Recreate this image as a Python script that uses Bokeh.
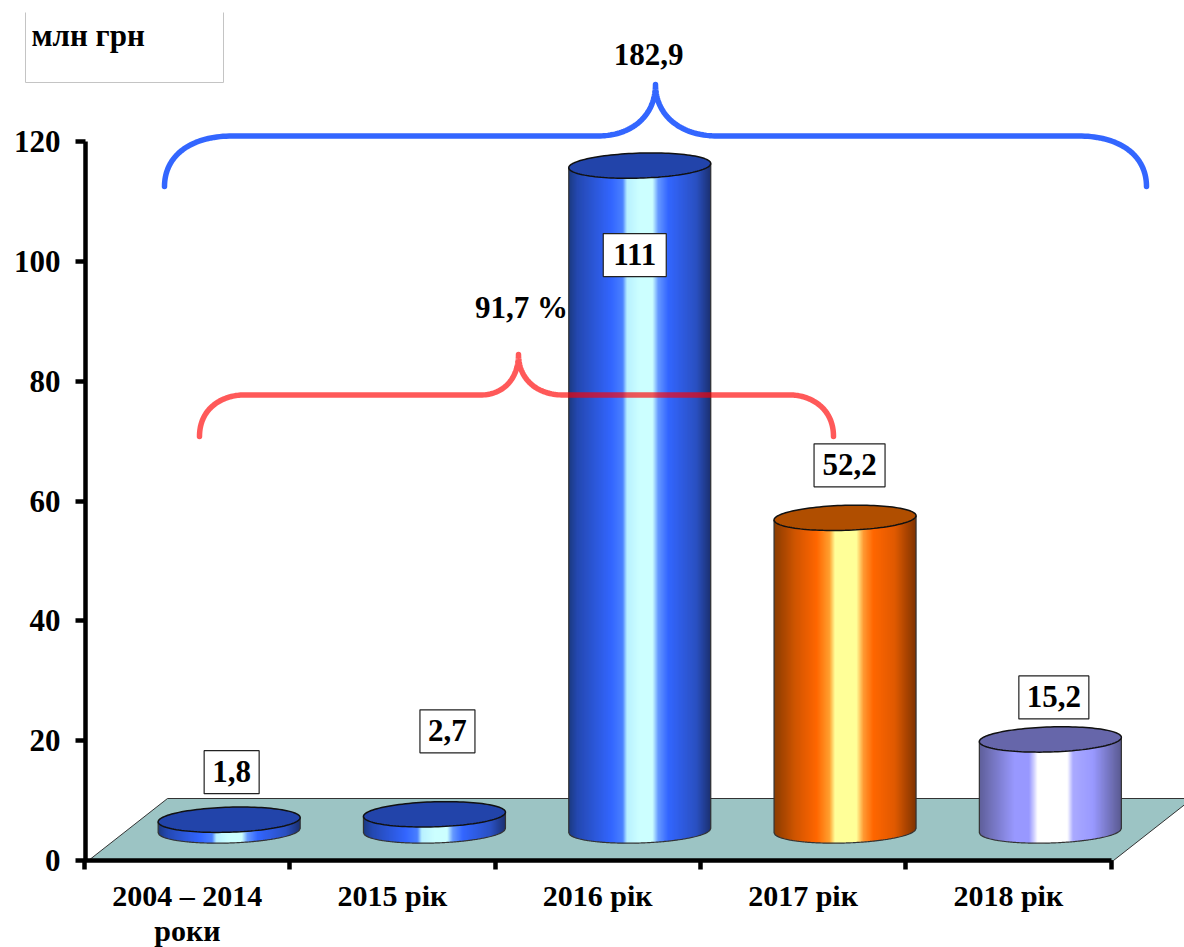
import numpy as np
from bokeh.embed import file_html
from bokeh.resources import INLINE
from bokeh.plotting import figure
from bokeh.models import LinearAxis, FixedTicker, ColumnDataSource
from bokeh.core.properties import value

# ---------- data ----------
categories = ["2004 – 2014", "2015 рік", "2016 рік", "2017 рік", "2018 рік"]
first_category_second_line = "роки"
values = [1.8, 2.7, 111, 52.2, 15.2]
value_labels = ["1,8", "2,7", "111", "52,2", "15,2"]
y_ticks = [0, 20, 40, 60, 80, 100, 120]
unit_label = "млн грн"
total_label = "182,9"
share_label = "91,7 %"

# ---------- styles ----------
FONT = value("Liberation Serif")
BLUE = {"stops": [0, .06, .3, .38, .41, .5, .59, .63, .7, .9, 1],
        "cols": ["#1c3a80", "#2448b0", "#3366ff", "#4a80ff", "#b8f0ff", "#ccffff", "#ccffff", "#6699ff", "#3366ff", "#2a50c0", "#1c3070"],
        "top": "#2244aa"}
ORANGE = {"stops": [0, .15, .3, .39, .43, .58, .63, .7, .85, 1],
          "cols": ["#8a3c00", "#d05500", "#ff6600", "#ffa030", "#ffff99", "#ffff99", "#ff9933", "#ff6600", "#e05a00", "#7f3300"],
          "top": "#b04e00"}
PERI = {"stops": [0, .25, .35, .385, .41, .62, .66, .8, 1],
        "cols": ["#5f5f99", "#9999ff", "#9999ff", "#d0d0ff", "#ffffff", "#ffffff", "#aaaaff", "#9999ff", "#5a5a90"],
        "top": "#6666aa"}
styles = [BLUE, BLUE, BLUE, ORANGE, PERI]

# ---------- layout (page pixel geometry) ----------
W, H = 1184, 947
PAGE = 0
X0, DX = 84.0, 205.3     # left tick and category width
Y0, DY = 860.0, 5.99     # y of value 0 and px per unit
CYL_SHIFT = 42.0
HALF_W, HALF_H, TILT = 71.0, 12.5, 0.03
BASE_Y = 830.0

def ux(px):
    return (np.asarray(px, dtype=float) - X0) / DX

def uy(py):
    return (Y0 - np.asarray(py, dtype=float)) / DY

p = figure(width=W, height=H, output_backend="svg", toolbar_location=None,
           x_axis_type=None, y_axis_type=None,
           x_range=(float(ux(PAGE)), float(ux(PAGE + W))),
           y_range=(float(uy(PAGE + H)), float(uy(PAGE))),
           min_border=0, outline_line_color=None,
           background_fill_color="white", border_fill_color="white")
p.grid.visible = False

# floor
fx = [88, 1113, 1192, 167]
fy = [860, 860, 798, 798]
p.patch(ux(fx), uy(fy), fill_color="#9cc4c4", line_color="#333333", line_width=1)

# cylinders
def lerp_colors(t, stops, cols):
    rgb = np.array([[int(c[i:i + 2], 16) for i in (1, 3, 5)] for c in cols], dtype=float)
    return ["#%02x%02x%02x" % tuple(int(round(np.interp(v, stops, rgb[:, k]))) for k in range(3)) for v in t]

N = 142
for i, (v, st) in enumerate(zip(values, styles)):
    cx = X0 + DX * (i + .5) + CYL_SHIFT
    top = BASE_Y - v * DY
    edges = np.linspace(-HALF_W, HALF_W, N + 1)
    curve = HALF_H * np.sqrt(np.clip(1 - (edges / HALF_W) ** 2, 0, 1))
    shear = -TILT * edges
    mids = (np.arange(N) + .5) / N
    cols = lerp_colors(mids, st["stops"], st["cols"])
    xs, ys = [], []
    for k in range(N):
        e = min(k + 2, N)   # each strip runs under the next one, so no seams show
        xx = [cx + edges[k], cx + edges[e], cx + edges[e], cx + edges[k]]
        yy = [top + shear[k] + curve[k], top + shear[e] + curve[e],
              BASE_Y + shear[e] + curve[e], BASE_Y + shear[k] + curve[k]]
        xs.append(ux(xx).tolist())
        ys.append(uy(yy).tolist())
    p.patches(xs, ys, fill_color=cols, line_color=None)
    # body outline
    ox = np.r_[cx - HALF_W, cx + edges, cx + HALF_W]
    oy = np.r_[top + shear[0], BASE_Y + shear + curve, top + shear[-1]]
    p.line(ux(ox), uy(oy), line_color="#333333", line_width=1.2)
    # top ellipse
    th = np.linspace(0, 2 * np.pi, 121)
    ex = cx + HALF_W * np.cos(th)
    ey = top - TILT * HALF_W * np.cos(th) + HALF_H * np.sin(th)
    p.patch(ux(ex), uy(ey), fill_color=st["top"], line_color="#111111", line_width=1.5)

# braces
def bez(p0, c1, c2, p1, n=40):
    t = np.linspace(0, 1, n)[:, None]
    a = [np.array(q, dtype=float) for q in (p0, c1, c2, p1)]
    return (1 - t) ** 3 * a[0] + 3 * (1 - t) ** 2 * t * a[1] + 3 * (1 - t) * t ** 2 * a[2] + t ** 3 * a[3]

def brace(xl, yl, jl, yh, tx, ty, ml, mr, jr, xr):
    segs = [bez((xl, yl), (xl, yl - 30), (xl + 25, yh), (jl, yh)),
            bez((ml, yh), (ml + (tx - ml) * .6, yh), (tx, yh - (yh - ty) * .4), (tx, ty)),
            bez((tx, ty), (tx, yh - (yh - ty) * .4), (mr - (mr - tx) * .6, yh), (mr, yh)),
            bez((jr, yh), (xr - 25, yh), (xr, yl - 30), (xr, yl))]
    return np.vstack(segs)

b = brace(164, 186, 232, 135.5, 655, 84, 597, 717, 1078, 1146)
p.line(ux(b[:, 0]), uy(b[:, 1]), line_color="#3366ff", line_width=5.5, line_cap="round", line_join="round")
r = brace(199, 436, 243, 394.5, 518, 354, 480, 563, 790, 833)
p.line(ux(r[:, 0]), uy(r[:, 1]), line_color="#ff0000", line_alpha=.65, line_width=5.5, line_cap="round", line_join="round")

# value labels in boxes
lab_dx = [2.5, 13, -5, 4.5, 3.5]
lab_dy = [-47.5, -83, 89.5, -52.5, -42]
lab_w = [55, 55, 63, 71, 70]
src = {"x": [], "y": [], "w": [], "t": value_labels}
for i, v in enumerate(values):
    src["x"].append(float(ux(X0 + DX * (i + .5) + CYL_SHIFT + lab_dx[i])))
    src["y"].append(float(uy(BASE_Y - v * DY + lab_dy[i])))
    src["w"].append(lab_w[i])
ds = ColumnDataSource(src)
p.rect("x", "y", width="w", height=43, width_units="screen", height_units="screen", source=ds,
       fill_color="white", line_color="#222222", line_width=1.2)
p.text("x", "y", text="t", source=ds, text_align="center", text_baseline="middle",
       text_font=FONT, text_font_style="bold", text_font_size="31px", text_color="black", y_offset=-1)

# free text
for s, x, y, al, bl, fs in [(total_label, 648, 54, "center", "middle", "31px"),
                            (share_label, 521, 307, "center", "middle", "31px"),
                            (unit_label, 31, 35, "left", "middle", "31px"),
                            (first_category_second_line, 187, 946, "center", "bottom", "30px")]:
    p.text([float(ux(x))], [float(uy(y))], text=[s], text_align=al, text_baseline=bl,
           text_font=FONT, text_font_style="bold", text_font_size=fs, text_color="black")

# unit box (no top side)
p.line(ux([25, 25, 223, 223]), uy([12, 82, 82, 12]), line_color="#c4c4c4", line_width=1)

# axes
ya = LinearAxis(ticker=FixedTicker(ticks=y_ticks), fixed_location=0.005, bounds=(0, 120))
ya.axis_line_width = 4.5
ya.axis_line_color = "black"
ya.major_tick_in = 0
ya.major_tick_out = 10
ya.major_tick_line_width = 4.5
ya.major_tick_line_color = "black"
ya.minor_tick_line_color = None
ya.major_label_standoff = 15
ya.major_label_text_font = "Liberation Serif"
ya.major_label_text_font_style = "bold"
ya.major_label_text_font_size = "31px"
ya.major_label_text_color = "black"
p.add_layout(ya, "left")

centers = [i + .5 for i in range(len(categories))]
xa = LinearAxis(ticker=FixedTicker(ticks=centers, minor_ticks=list(range(len(categories) + 1))),
                fixed_location=0, bounds=(0, len(categories)))
xa.major_label_overrides = dict(zip(centers, categories))
xa.axis_line_width = 4.5
xa.axis_line_color = "black"
xa.major_tick_line_color = None
xa.major_tick_in = 0
xa.major_tick_out = 9
xa.minor_tick_in = 0
xa.minor_tick_out = 9
xa.minor_tick_line_width = 4.5
xa.minor_tick_line_color = "black"
xa.major_label_standoff = 9
xa.major_label_text_font = "Liberation Serif"
xa.major_label_text_font_style = "bold"
xa.major_label_text_font_size = "30px"
xa.major_label_text_color = "black"
p.add_layout(xa, "below")

open("out.html", "w").write(file_html(p, INLINE))
